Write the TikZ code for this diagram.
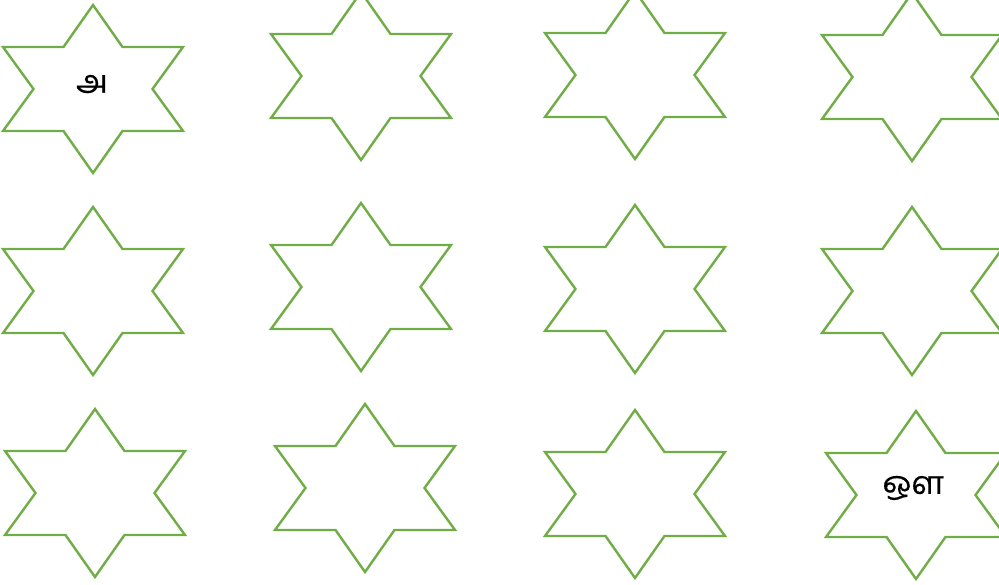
\documentclass[tikz,border=0pt]{standalone}
\usepackage{fontspec}
\newfontfamily\tamilfont[Script=Tamil, FakeBold=0.3]{Hind Madurai}
\definecolor{starGreen}{RGB}{112,173,71}
\tikzset{
  starline/.style={draw=starGreen, line width=2.4pt, line join=miter},
  letter/.style={font=\tamilfont\fontsize{32}{38}\selectfont, inner sep=0pt, text=black},
  hexstar/.pic={
    \draw[starline] (0,-84) -- (29.5,-42) -- (90,-42) -- (59.5,0) -- (90,42)
      -- (29.5,42) -- (0,84) -- (-29.5,42) -- (-90,42) -- (-59.5,0)
      -- (-90,-42) -- (-29.5,-42) -- cycle;
  },
}

\begin{document}
\begin{tikzpicture}[x=1pt, y=-1pt]
    \useasboundingbox (0,0) rectangle (999,585);
    \clip (0,0) rectangle (999,585);
    % three rows of stars
    \foreach \cx/\cy [count=\i] in {93/89, 361/76, 635/75, 912/77,
                                    93/291, 361/287, 635/289, 912/291,
                                    95/493, 365/488, 635/494, 916/495}
      \pic (star\i) at (\cx,\cy) {hexstar};
    % letters
    \node[letter] (first) at (92,84) {அ};
    \node[letter] (last) at (913,488) {ஔ};
  \end{tikzpicture}
\end{document}
